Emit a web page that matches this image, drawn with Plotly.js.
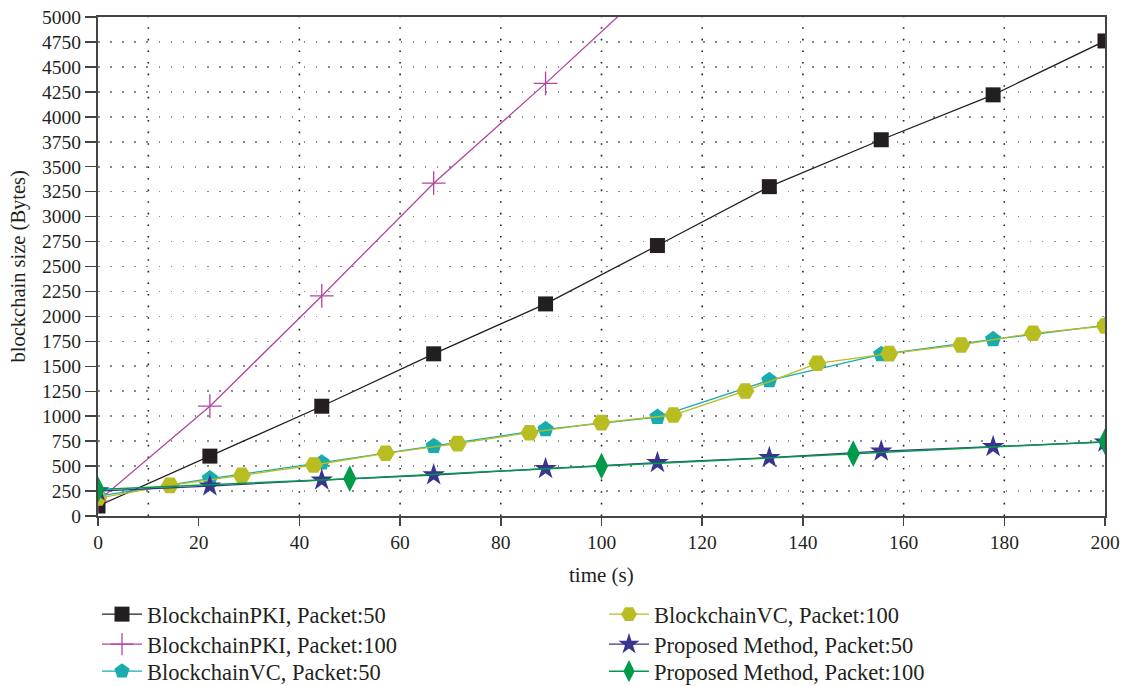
<!DOCTYPE html>
<html>
<head>
<meta charset="utf-8">
<script src="https://cdn.plot.ly/plotly-3.0.1.min.js"></script>
<style>html,body{margin:0;padding:0;background:#fff;}#chart{width:1125px;height:686px;}</style>
</head>
<body>
<div id="chart"></div>
<script>
// ---- data ----
const xPKI = [0, 22.22, 44.44, 66.67, 88.89, 111.11, 133.33, 155.56, 177.78, 200];
const pki50 = [100, 600, 1100, 1625, 2125, 2710, 3300, 3770, 4220, 4760];
const xPKI100 = [0, 22.22, 44.44, 66.67, 88.89, 111.11];
const pki100 = [150, 1100, 2205, 3335, 4335, 5370];
const xVC50 = [0, 22.22, 44.44, 66.67, 88.89, 111.11, 133.33, 155.56, 177.78, 200];
const vc50 = [200, 375, 534, 700, 869, 992, 1360, 1620, 1770, 1910];
const xVC100 = [0, 14.29, 28.57, 42.86, 57.14, 71.43, 85.71, 100, 114.29, 128.57, 142.86, 157.14, 171.43, 185.71, 200];
const vc100 = [180, 307, 407, 511, 628, 725, 835, 936, 1012, 1253, 1530, 1627, 1714, 1831, 1904];
const xPM50 = [0, 22.22, 44.44, 66.67, 88.89, 111.11, 133.33, 155.56, 177.78, 200];
const pm50 = [250, 300, 360, 411, 475, 535, 585, 650, 695, 740];
const xPM100 = [0, 50, 100, 150, 200];
const pm100 = [265, 374, 501, 625, 745];
const xTicks = [0, 20, 40, 60, 80, 100, 120, 140, 160, 180, 200];
const vGrid = [10, 40, 60, 80, 100, 120, 140, 160, 180];

const names = ["BlockchainPKI, Packet:50", "BlockchainPKI, Packet:100", "BlockchainVC, Packet:50",
               "BlockchainVC, Packet:100", "Proposed Method, Packet:50", "Proposed Method, Packet:100"];
const xTitle = "time (s)";
const yTitle = "blockchain size (Bytes)";

const FONT = "Liberation Serif, Times New Roman, serif";

const traces = [
  {x: xPKI, y: pki50, name: names[0], legend: "legend", mode: "lines+markers",
   line: {color: "#231f20", width: 1.3}, marker: {symbol: "square", size: 15, color: "#231f20"}},
  {x: xPKI100, y: pki100, name: names[1], legend: "legend2", mode: "lines+markers",
   line: {color: "#b4449e", width: 1.3}, marker: {symbol: "cross-thin-open", size: 17, color: "#b4449e", line: {color: "#b4449e", width: 1.3}}},
  {x: xVC50, y: vc50, name: names[2], legend: "legend3", mode: "lines+markers",
   line: {color: "#1aacad", width: 1.3}, marker: {symbol: "pentagon", size: 17, color: "#1aacad"}},
  {x: xVC100, y: vc100, name: names[3], legend: "legend4", mode: "lines+markers",
   line: {color: "#b8bd22", width: 1.3}, marker: {symbol: "hexagon2", size: 18, color: "#b8bd22"}},
  {x: xPM50, y: pm50, name: names[4], legend: "legend5", mode: "lines+markers",
   line: {color: "#3a3491", width: 1.3}, marker: {symbol: "star", size: 17, color: "#3a3491"}},
  {x: xPM100, y: pm100, name: names[5], legend: "legend6", mode: "lines+markers",
   line: {color: "#009b4a", width: 1.5}, marker: {symbol: "diamond-tall", size: 19, color: "#009b4a"}}
];

const shapes = vGrid.map(v => ({
  type: "line", xref: "x", yref: "paper", x0: v, x1: v, y0: 0, y1: 1,
  line: {color: "#222", width: 1.6, dash: "1.6px,10px"}, layer: "below"
}));

function mkLegend(xpx, ypx) {
  return {
    orientation: "v", bgcolor: "rgba(0,0,0,0)", font: {family: FONT, size: 22.5, color: "#231f20"},
    xanchor: "left", yanchor: "top", yref: "container", xref: "container", itemwidth: 40,
    x: xpx / 1125, y: 1 - ypx / 686
  };
}

const layout = {
  width: 1125, height: 686,
  margin: {l: 98, r: 20, t: 17, b: 170, autoexpand: false},
  paper_bgcolor: "#fff", plot_bgcolor: "#fff",
  font: {family: FONT, size: 19, color: "#231f20"},
  showlegend: true,
  xaxis: {
    range: [0, 200], tickvals: xTicks, ticks: "outside", ticklen: 8, tickwidth: 1.5, tickcolor: "#444",
    showline: true, linecolor: "#444", linewidth: 2, mirror: true, showgrid: false, zeroline: false,
    tickfont: {family: FONT, size: 19.5}, tickangle: 0, automargin: false
  },
  yaxis: {
    range: [0, 5000], dtick: 250, tick0: 0, ticks: "outside", ticklen: 11, tickwidth: 1.5, tickcolor: "#444",
    showline: true, linecolor: "#444", linewidth: 2, mirror: true, automargin: false,
    showgrid: true, gridcolor: "#8a8a8a", gridwidth: 1.6, griddash: "1.6px,10.5px", zeroline: false,
    tickfont: {family: FONT, size: 19.5}
  },
  annotations: [
    {text: xTitle, xref: "paper", yref: "paper", x: 0.5, y: -(575 - 516) / 499, xanchor: "center", yanchor: "middle",
     showarrow: false, font: {family: FONT, size: 21}},
    {text: yTitle, xref: "paper", yref: "paper", x: (18 - 98) / 1007, y: 0.5, xanchor: "center", yanchor: "middle",
     textangle: -90, showarrow: false, font: {family: FONT, size: 20.5}}
  ],
  legend: mkLegend(97, 593),
  legend2: mkLegend(97, 623),
  legend3: mkLegend(97, 650),
  legend4: mkLegend(604, 593),
  legend5: mkLegend(604, 623),
  legend6: mkLegend(604, 650),
  shapes: shapes
};

Plotly.newPlot("chart", traces, layout, {displayModeBar: false, staticPlot: true});
</script>
</body>
</html>
